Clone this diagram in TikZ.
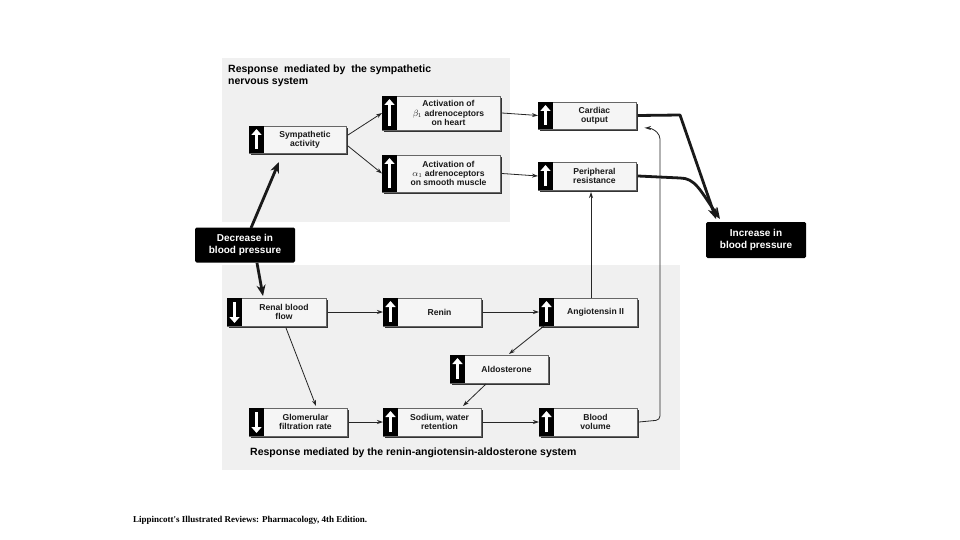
\documentclass[tikz,border=0pt]{standalone}
\usepackage{fontspec}
\setmainfont{Liberation Sans}
\newfontfamily\serifx{Liberation Serif}
\usetikzlibrary{arrows.meta,calc}
\tikzset{
  lbl/.style={font=\bfseries\fontsize{8.6}{9.4}\selectfont, align=center, text=black!90, inner sep=0pt},
  thin arr/.style={draw=black!85, line width=0.8pt, -{Stealth[length=6pt,width=4pt]}},
  thick arr/.style={draw=black!90, line width=2.8pt, -{Stealth[length=11pt,width=9pt]}},
  blk/.style={fill=black, text=white, font=\bfseries\fontsize{10}{11.5}\selectfont, align=center, inner sep=0pt, rounded corners=1.5pt}
}
% \bx{name}{x1}{y1}{x2}{y2}{dir: 1 up, -1 down}{text}
\newcommand{\bx}[7]{%
  \fill[black!80] (#2+2,#3+2) rectangle (#4+2,#5+2);
  \draw[black!60, line width=0.5pt, fill=gray!8] (#2,#3) rectangle (#4,#5);
  \fill[black] (#2,#3) rectangle (#2+15,#5);
  \ifnum#6>0
    \draw[white, line width=3.4pt, -{Triangle[length=6pt,width=10pt]}] ($(#2+7.5,#5-4)$) -- ($(#2+7.5,#3+3)$);
  \else
    \draw[white, line width=3.4pt, -{Triangle[length=6pt,width=10pt]}] ($(#2+7.5,#3+4)$) -- ($(#2+7.5,#5-3)$);
  \fi
  \node[lbl, minimum width=#4-#2-15, minimum height=#5-#3] (#1) at ($({(#2+15+#4)/2},{(#3+#5)/2})$) {#7};
  \coordinate (#1-w) at (#2,{(#3+#5)/2});
  \coordinate (#1-e) at (#4+2,{(#3+#5)/2});
}
\begin{document}
\begin{tikzpicture}[x=1pt,y=-1pt]
\useasboundingbox (0,0) rectangle (960,540);
\fill[white] (0,0) rectangle (960,540);
% panels
\fill[gray!12] (222,58) rectangle (510,222);
\fill[gray!12] (222,265) rectangle (680,470);
\node[anchor=north west, font=\bfseries\fontsize{10.5}{12}\selectfont, align=left, inner sep=0pt] (t1) at (228,65) {Response\ \ mediated by\ \ the sympathetic\\nervous system};
\node[anchor=west, font=\bfseries\fontsize{10.5}{12}\selectfont, inner sep=0pt] (t2) at (250,453) {Response mediated by the renin-angiotensin-aldosterone system};
\node[anchor=west, font=\serifx\bfseries\fontsize{9}{10}\selectfont, inner sep=0pt] (foot) at (133,520) {Lippincott's Illustrated Reviews: Pharmacology, 4th Edition.};

\bx{sym}{249}{126}{346}{153}{1}{Sympathetic\\activity}
\bx{b1}{382}{96}{500}{130}{1}{Activation of\\$\beta_1$ adrenoceptors\\on heart}
\bx{a1}{382}{155}{500}{192}{1}{Activation of\\$\alpha_1$ adrenoceptors\\on smooth muscle}
\bx{co}{538}{102}{636}{129}{1}{Cardiac\\output}
\bx{pr}{538}{162}{636}{190}{1}{Peripheral\\resistance}
\bx{ren}{227}{298}{326}{326}{-1}{Renal blood\\flow}
\bx{rn}{383}{298}{481}{326}{1}{Renin}
\bx{ang}{539}{298}{637}{326}{1}{Angiotensin II}
\bx{ald}{450}{355}{548}{383}{1}{Aldosterone}
\bx{gfr}{249}{408}{347}{436}{-1}{Glomerular\\filtration rate}
\bx{na}{383}{408}{481}{436}{1}{Sodium, water\\retention}
\bx{bv}{539}{408}{637}{436}{1}{Blood\\volume}

\node[blk, minimum width=100, minimum height=35] (dec) at (245,245) {Decrease in\\blood pressure};
\node[blk, minimum width=100, minimum height=36] (inc) at (756,240) {Increase in\\blood pressure};

% thick arrows
\draw[thick arr] (251,228) -- (279,162);
\draw[thick arr] (257,263) -- (263,296);
\draw[thick arr, line join=round] (co-e) -- (680,115) -- (716,219);
\draw[thick arr, line join=round] (pr-e) -- (680,178) .. controls (695,178) and (700,190) .. (720,219);

% thin arrows
\draw[thin arr] (348,135) -- (b1-w);
\draw[thin arr] (348,146) -- (a1-w);
\draw[thin arr] (b1-e) -- (co-w);
\draw[thin arr] (a1-e) -- (pr-w);
\draw[thin arr] (ren-e) -- (rn-w);
\draw[thin arr] (rn-e) -- (ang-w);
\draw[thin arr] (gfr-e) -- (na-w);
\draw[thin arr] (na-e) -- (bv-w);
\draw[thin arr] (286,328) -- (316,406);
\draw[thin arr] (544,326) -- (509,354);
\draw[thin arr] (486,384) -- (463,406);
\draw[thin arr] (591,298) -- (591,192);
\draw[thin arr, rounded corners=4pt] (bv-e) -- (660,420) -- (660,135) -- (652,128) -- (645,128);
\end{tikzpicture}
\end{document}
